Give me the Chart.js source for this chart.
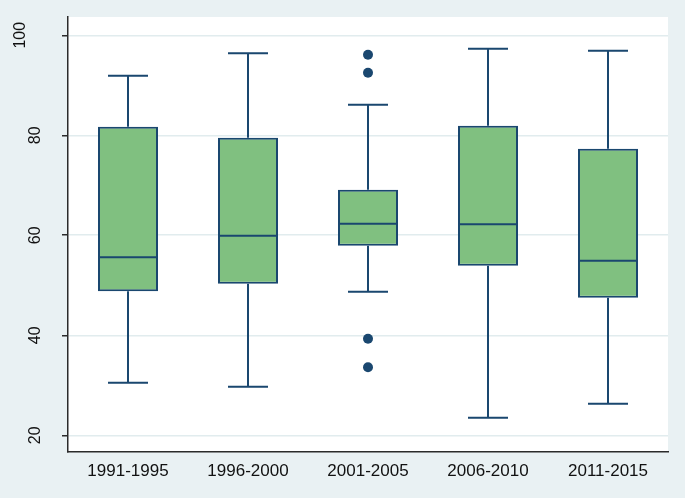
<!DOCTYPE html>
<html>
<head>
<meta charset="utf-8">
<script src="https://cdn.jsdelivr.net/npm/chart.js@4/dist/chart.umd.min.js"></script>
<style>
  html, body { margin: 0; padding: 0; background: #e9f1f3; }
  #wrap { width: 685px; height: 498px; }
</style>
</head>
<body>
<div id="wrap"><canvas id="c" width="685" height="498"></canvas></div>
<script>
const categories = ['1991-1995', '1996-2000', '2001-2005', '2006-2010', '2011-2015'];
const whiskerLow  = [30.5, 29.7, 48.7, 23.5, 26.3];
const q1Values    = [48.8, 50.3, 57.9, 53.9, 47.5];
const medianValues = [55.6, 59.9, 62.3, 62.2, 54.9];
const q3Values    = [81.7, 79.5, 69.1, 81.9, 77.3];
const whiskerHigh = [91.9, 96.4, 86.1, 97.3, 96.9];
const outlierCategories = ['2001-2005', '2001-2005', '2001-2005', '2001-2005'];
const outlierValues = [96.1, 92.5, 39.3, 33.6];
const yTickValues = [20, 40, 60, 80, 100];

const NAVY = '#1a476f';
const GREEN = '#80c080';
const BG = '#e9f1f3';

const boxPlugin = {
  id: 'boxParts',
  beforeDraw(chart) {
    const { ctx, chartArea: a } = chart;
    ctx.save();
    ctx.fillStyle = BG;
    ctx.fillRect(0, 0, chart.width, chart.height);
    ctx.fillStyle = '#ffffff';
    ctx.fillRect(a.left, a.top, a.right - a.left, a.bottom - a.top);
    ctx.restore();
  },
  afterDatasetsDraw(chart) {
    const { ctx } = chart;
    const x = chart.scales.x, y = chart.scales.y;
    const meta = chart.getDatasetMeta(0);
    ctx.save();
    ctx.strokeStyle = NAVY;
    ctx.lineWidth = 2;
    categories.forEach((c, i) => {
      const cx = x.getPixelForValue(i);
      const bw = meta.data[i].width;
      const capHalf = bw / 3;
      const yLo = y.getPixelForValue(whiskerLow[i]);
      const yQ1 = y.getPixelForValue(q1Values[i]);
      const yMed = y.getPixelForValue(medianValues[i]);
      const yQ3 = y.getPixelForValue(q3Values[i]);
      const yHi = y.getPixelForValue(whiskerHigh[i]);
      ctx.beginPath();
      ctx.moveTo(cx, yQ3); ctx.lineTo(cx, yHi);
      ctx.moveTo(cx - capHalf, yHi); ctx.lineTo(cx + capHalf, yHi);
      ctx.moveTo(cx, yQ1); ctx.lineTo(cx, yLo);
      ctx.moveTo(cx - capHalf, yLo); ctx.lineTo(cx + capHalf, yLo);
      ctx.moveTo(cx - bw / 2 + 1, yMed); ctx.lineTo(cx + bw / 2 - 1, yMed);
      ctx.stroke();
    });
    ctx.restore();
  },
  afterDraw(chart) {
    const { ctx } = chart;
    const y = chart.scales.y;
    ctx.save();
    ctx.fillStyle = '#111111';
    ctx.font = '16px "Liberation Sans", Arial, sans-serif';
    ctx.textAlign = 'center';
    ctx.textBaseline = 'alphabetic';
    y.ticks.forEach(t => {
      const label = String(t.value);
      const py = y.getPixelForValue(t.value);
      const bx = 40 - (label.length - 2) * 15;
      ctx.save();
      ctx.translate(bx, py);
      ctx.rotate(-Math.PI / 2);
      ctx.fillText(label, 0, 0);
      ctx.restore();
    });
    ctx.restore();
  }
};

new Chart(document.getElementById('c'), {
  data: {
    labels: categories,
    datasets: [
      {
        type: 'bar',
        data: categories.map((c, i) => [q1Values[i], q3Values[i]]),
        backgroundColor: GREEN,
        borderColor: NAVY,
        borderWidth: 2,
        borderSkipped: false,
        barPercentage: 0.5,
        categoryPercentage: 1.0
      },
      {
        type: 'line',
        showLine: false,
        data: outlierCategories.map((c, i) => ({ x: c, y: outlierValues[i] })),
        pointRadius: 5,
        pointBackgroundColor: NAVY,
        pointBorderWidth: 0,
        pointBorderColor: NAVY
      }
    ]
  },
  options: {
    responsive: false,
    animation: false,
    layout: { padding: { top: 17, right: 17, left: 0, bottom: 0 } },
    plugins: { legend: { display: false }, tooltip: { enabled: false } },
    scales: {
      x: {
        type: 'category',
        offset: true,
        grid: { display: false, drawTicks: false },
        border: { display: true, color: '#2b2b2b', width: 1.5 },
        ticks: {
          color: '#111111',
          font: { family: '"Liberation Sans", Arial, sans-serif', size: 17 },
          padding: 9,
          maxRotation: 0,
          minRotation: 0
        },
        afterFit(s) { s.height = 46; }
      },
      y: {
        type: 'linear',
        min: 16.65,
        max: 103.65,
        afterBuildTicks(s) { s.ticks = yTickValues.map(v => ({ value: v })); },
        grid: {
          color: '#e1ecee',
          lineWidth: 1.5,
          drawTicks: true,
          tickLength: 6,
          tickColor: '#2b2b2b',
          tickWidth: 1.5
        },
        border: { display: true, color: '#2b2b2b', width: 1.5 },
        ticks: { display: false },
        afterFit(s) { s.width = 68; }
      }
    }
  },
  plugins: [boxPlugin]
});
</script>
</body>
</html>
